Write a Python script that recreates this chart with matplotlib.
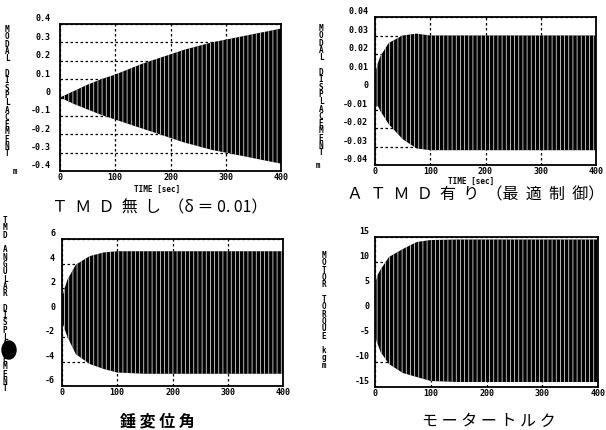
import matplotlib
matplotlib.use("Agg")
import matplotlib.pyplot as plt
from matplotlib.transforms import ScaledTranslation
from matplotlib.patches import Ellipse

W, H = 606, 431

# envelope of the oscillating response (time in sec)
t_free = [0, 25, 50, 75, 100, 125, 150, 175, 200, 225, 250, 275, 300, 325, 350, 375, 400]
free_hi = [0.0, 0.035, 0.07, 0.10, 0.125, 0.155, 0.185, 0.21, 0.235, 0.26, 0.28, 0.30, 0.315, 0.33, 0.345, 0.36, 0.375]
free_lo = [0.0, -0.035, -0.065, -0.095, -0.12, -0.145, -0.17, -0.195, -0.22, -0.245, -0.265, -0.285, -0.30, -0.315, -0.33, -0.345, -0.36]

t_ctrl = [0, 5, 10, 25, 50, 75, 100, 150, 200, 250, 300, 350, 400]
atmd_hi = [0.009, 0.015, 0.019, 0.026, 0.030, 0.031, 0.030, 0.030, 0.030, 0.030, 0.030, 0.030, 0.030]
atmd_lo = [-0.009, -0.008, -0.011, -0.018, -0.026, -0.031, -0.032, -0.032, -0.032, -0.032, -0.032, -0.032, -0.032]

angle_hi = [1.2, 2.0, 2.7, 3.9, 4.6, 4.9, 5.0, 5.0, 5.0, 5.0, 5.0, 5.0, 5.0]
angle_lo = [-0.7, -1.4, -2.0, -3.4, -4.2, -4.6, -4.9, -5.0, -5.0, -5.0, -5.0, -5.0, -5.0]

torque_hi = [5.6, 7.5, 8.5, 11.0, 12.6, 14.0, 14.4, 14.5, 14.5, 14.5, 14.5, 14.5, 14.5]
torque_lo = [-4.8, -6.5, -8.0, -10.4, -12.2, -13.0, -13.8, -14.0, -14.0, -14.0, -14.0, -14.0, -14.0]

x_ticks = [0, 100, 200, 300, 400]
x_labels = ["0", "100", "200", "300", "400"]

panels = [
    # rect px (l, r, t, b), time, hi, lo, ylim, yticks, ylabels, label pad
    dict(rect=(60, 281, 25, 172), t=t_free, hi=free_hi, lo=free_lo, lim=0.4,
         yt=[0.4, 0.3, 0.2, 0.1, 0, -0.1, -0.2, -0.3, -0.4],
         yl=["0.4", "0.3", "0.2", "0.1", "0", "-0.1", "-0.2", "-0.3", "-0.4"], pad=7),
    dict(rect=(375, 596, 18, 166), t=t_ctrl, hi=atmd_hi, lo=atmd_lo, lim=0.04,
         yt=[0.04, 0.03, 0.02, 0.01, 0, -0.01, -0.02, -0.03, -0.04],
         yl=["0.04", "0.03", "0.02", "0.01", "0", "-0.01", "-0.02", "-0.03", "-0.04"], pad=5),
    dict(rect=(62, 283, 240, 387), t=t_ctrl, hi=angle_hi, lo=angle_lo, lim=6,
         yt=[6, 4, 2, 0, -2, -4, -6], yl=["6", "4", "2", "0", "-2", "-4", "-6"], pad=5),
    dict(rect=(375, 598, 238, 388), t=t_ctrl, hi=torque_hi, lo=torque_lo, lim=15,
         yt=[15, 10, 5, 0, -5, -10, -15], yl=["15", "10", "5", "0", "-5", "-10", "-15"], pad=4),
]

plt.rcParams['hatch.linewidth'] = 0.5
tick_font = dict(family="DejaVu Sans Mono", weight="bold", size=6)

fig = plt.figure(figsize=(W / 100, H / 100), dpi=100)
shift_up = ScaledTranslation(0, 7 / 100, fig.dpi_scale_trans)

for p in panels:
    l, r, t, b = p["rect"]
    ax = fig.add_axes([l / W, 1 - b / H, (r - l) / W, (b - t) / H])
    ax.fill_between(p["t"], p["lo"], p["hi"], facecolor="black", edgecolor="white",
                    hatch="||||", linewidth=0, zorder=2)
    ax.set_xlim(0, 400)
    ax.set_ylim(-p["lim"], p["lim"])
    ax.set_xticks(x_ticks)
    ax.set_xticklabels(x_labels, fontdict=tick_font)
    ax.set_yticks(p["yt"])
    ax.set_yticklabels(p["yl"], fontdict=tick_font)
    ax.tick_params(length=0, pad=1)
    ax.tick_params(axis="y", pad=p["pad"])
    for lab in ax.get_yticklabels():
        lab.set_transform(lab.get_transform() + shift_up)
    ax.grid(True, color="black", linestyle=(0, (2, 2)), linewidth=0.9)
    ax.set_axisbelow(True)
    for s in ax.spines.values():
        s.set_linewidth(1.3)

lab_font = dict(family="DejaVu Sans Mono", weight="bold", size=5.5)

def stacked(x, y, s):
    fig.text(x / W, 1 - y / H, "\n".join(s), ha="center", va="top",
             linespacing=0.76, **lab_font)

stacked(7, 25, "MODAL DISPLACEMENT")
fig.text(15 / W, 1 - 172 / H, "m", ha="center", va="center", **lab_font)
stacked(321, 24, "MODAL DISPLACEMENT")
fig.text(318 / W, 1 - 166 / H, "m", ha="center", va="center", **lab_font)
stacked(5, 216, "TMD ANGULAR DISPLACEMENT")
stacked(324, 251, "MOTOR TORQUE kgm")

# ink blot on the scan
fig.patches.append(Ellipse((9 / W, 1 - 351 / H), 14 / W, 18 / H, color="black",
                           transform=fig.transFigure, figure=fig))

fig.text(157 / W, 1 - 189 / H, "TIME [sec]", ha="center", va="center", **lab_font)
fig.text(471 / W, 1 - 181 / H, "TIME [sec]", ha="center", va="center", **lab_font)

cap_font = dict(family=["Noto Sans CJK JP", "DejaVu Sans"], size=11.5)
fig.text(160 / W, 1 - 208 / H, "Ｔ  Ｍ  Ｄ  無  し  （δ ＝ 0. 01）", ha="center", va="center", **cap_font)
fig.text(476 / W, 1 - 195 / H, "Ａ  Ｔ  Ｍ  Ｄ  有  り  （最  適  制  御）", ha="center", va="center", **cap_font)
fig.text(157 / W, 1 - 421 / H, "錘 変 位 角", ha="center", va="center", weight="bold", **cap_font)
fig.text(489 / W, 1 - 421 / H, "モ ー タ ー ト ル ク", ha="center", va="center", **cap_font)

fig.savefig("out.png", dpi=100)
